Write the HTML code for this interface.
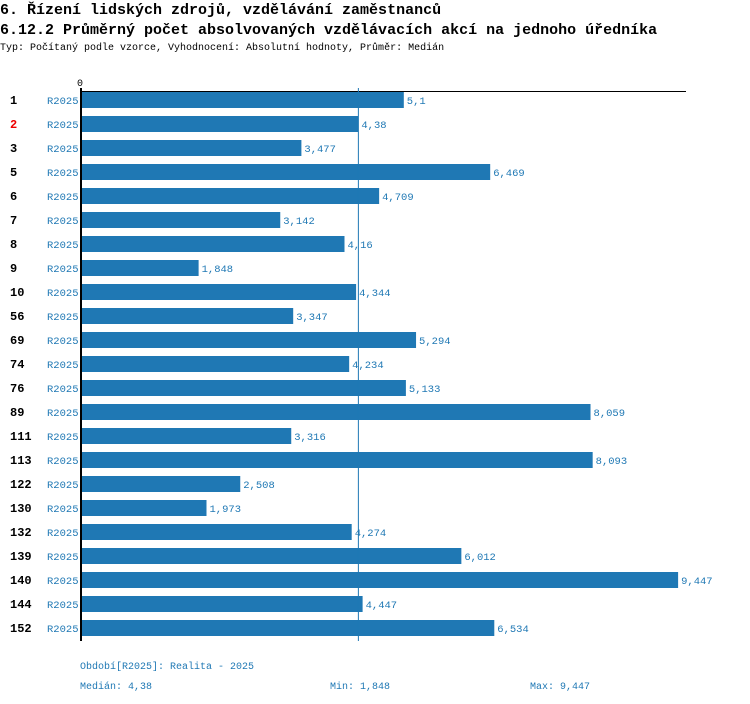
<!DOCTYPE html>
<html><head><meta charset="utf-8"><style>
body{margin:0;background:#fff;width:750px;height:704px;overflow:hidden;font-family:"Liberation Mono",monospace;}
.t{position:absolute;left:0;white-space:nowrap;color:#000}
</style></head><body>
<div class="t" style="top:2px;font-size:15px;font-weight:bold;">6. Řízení lidských zdrojů, vzdělávání zaměstnanců</div>
<div class="t" style="top:22px;font-size:15px;font-weight:bold;">6.12.2 Průměrný počet absolvovaných vzdělávacích akcí na jednoho úředníka</div>
<div class="t" style="top:43px;font-size:10px;">Typ: Počítaný podle vzorce, Vyhodnocení: Absolutní hodnoty, Průměr: Medián</div>
<svg id="c" width="750" height="704" style="position:absolute;left:0;top:0"></svg>
<script>
const categories=["1","2","3","5","6","7","8","9","10","56","69","74","76","89","111","113","122","130","132","139","140","144","152"];
const values=[5.1,4.38,3.477,6.469,4.709,3.142,4.16,1.848,4.344,3.347,5.294,4.234,5.133,8.059,3.316,8.093,2.508,1.973,4.274,6.012,9.447,4.447,6.534];
const highlighted=["2"];
const median=4.38, minV=1.848, maxV=9.447;
const ns="http://www.w3.org/2000/svg";
const svg=document.getElementById('c');
const x0=82, scale=63.1, y0=100, step=24;
const xs=v=>x0+v*scale, ys=i=>y0+i*step;
function mk(tag,attrs,text){const e=document.createElementNS(ns,tag);for(const k in attrs)e.setAttribute(k,attrs[k]);if(text!==undefined)e.textContent=text;svg.appendChild(e);return e;}
const fmt=v=>String(v).replace('.',',');
let e;
e=mk('line',{x1:80,x2:686,y1:91.5,y2:91.5,stroke:'#000','stroke-width':1});


e=mk('text',{x:80,y:86,'font-size':10,'text-anchor':'middle','font-family':'Liberation Mono,monospace'},'0');


categories.forEach((c,i)=>{
  const y=ys(i);
  let r=mk('rect',{x:x0,y:y-8,width:values[i]*scale,height:16,fill:'#1f78b4'});
  
  
  let t=mk('text',{x:10,y:y+4,'font-size':12,'font-weight':'bold',fill:highlighted.includes(c)?'#e00':'#000','font-family':'Liberation Mono,monospace'},c);
  
  
  t=mk('text',{x:47,y:y+4,'font-size':10.5,fill:'#1f78b4','font-family':'Liberation Mono,monospace'},'R2025');
  
  
  t=mk('text',{x:xs(values[i])+3,y:y+4,'font-size':10.5,fill:'#1f78b4','font-family':'Liberation Mono,monospace'},fmt(values[i]));
  
  
});
e=mk('line',{x1:xs(median),x2:xs(median),y1:88,y2:641,stroke:'#1f78b4','stroke-width':1});


e=mk('line',{x1:81,x2:81,y1:88,y2:641,stroke:'#000','stroke-width':2});


const foot=[[80,669,'Období[R2025]: Realita - 2025','legend-period'],[80,689,'Medián: '+fmt(median),'median-stat'],[330,689,'Min: '+fmt(minV),'min-stat'],[530,689,'Max: '+fmt(maxV),'max-stat']];
foot.forEach(f=>{const t=mk('text',{x:f[0],y:f[1],'font-size':10,fill:'#1f78b4','font-family':'Liberation Mono,monospace'},f[2]);

});
</script>
</body></html>
